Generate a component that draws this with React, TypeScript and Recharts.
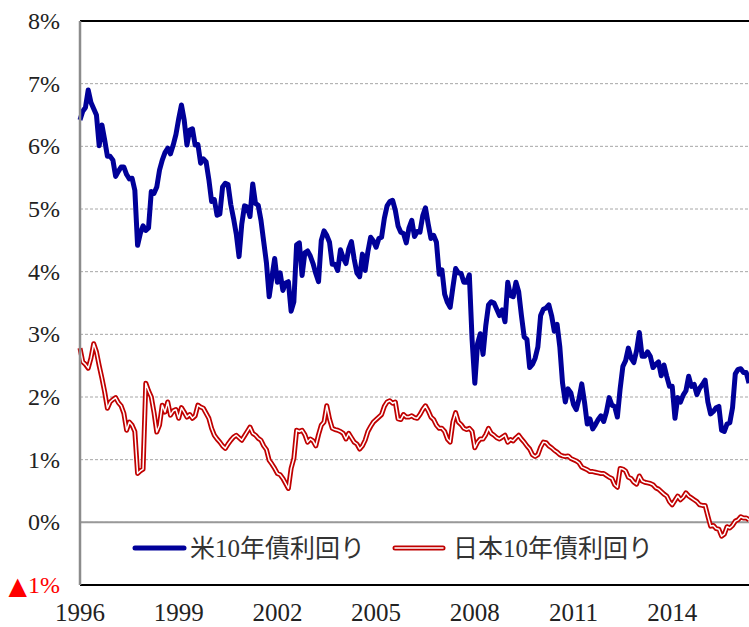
import React from 'react';
import { LineChart, Line, XAxis, YAxis, CartesianGrid, ReferenceLine, Legend } from 'recharts';

// month-end yields, Dec of first labelled year onward (one point per month)
const usYield = [
  6.42,
  6.56, 6.62, 6.9, 6.7, 6.6, 6.5, 6.01, 6.34, 6.1, 5.84, 5.84, 5.78,
  5.52, 5.6, 5.67, 5.67, 5.55, 5.48, 5.49, 5.3, 4.42, 4.61, 4.73, 4.66,
  4.7, 5.28, 5.25, 5.35, 5.62, 5.78, 5.9, 5.97, 5.88, 6.02, 6.19, 6.44,
  6.66, 6.42, 6.02, 6.26, 6.28, 6.02, 6.03, 5.73, 5.8, 5.75, 5.47, 5.12,
  5.15, 4.9, 4.92, 5.35, 5.41, 5.39, 5.07, 4.85, 4.6, 4.24, 4.76, 5.05,
  5.03, 4.88, 5.4, 5.09, 5.06, 4.82, 4.48, 4.14, 3.6, 3.91, 4.21, 3.83,
  3.98, 3.7, 3.82, 3.84, 3.37, 3.52, 4.43, 4.46, 3.94, 4.3, 4.33, 4.25,
  4.13, 3.97, 3.84, 4.5, 4.65, 4.58, 4.47, 4.12, 4.12, 4.02, 4.35, 4.22,
  4.13, 4.36, 4.48, 4.2, 3.98, 3.92, 4.28, 4.02, 4.32, 4.55, 4.49, 4.39,
  4.53, 4.55, 4.85, 5.05, 5.12, 5.14, 4.98, 4.73, 4.63, 4.61, 4.46, 4.7,
  4.82, 4.56, 4.64, 4.63, 4.89, 5.02, 4.76, 4.53, 4.58, 4.47, 3.96, 4.03,
  3.64, 3.51, 3.43, 3.75, 4.05, 3.98, 3.97, 3.83, 3.83, 3.95, 2.92, 2.22,
  2.85, 3.01, 2.68, 3.14, 3.47, 3.52, 3.5, 3.4, 3.3, 3.39, 3.2, 3.83,
  3.62, 3.6, 3.83, 3.68, 3.3, 2.96, 2.92, 2.47, 2.52, 2.62, 2.8, 3.3,
  3.4, 3.42, 3.47, 3.3, 3.05, 3.16, 2.8, 2.22, 1.92, 2.13, 2.07, 1.88,
  1.8, 1.97, 2.21, 1.92, 1.57, 1.65, 1.49, 1.56, 1.64, 1.7, 1.61, 1.76,
  1.99, 1.87, 1.85, 1.68, 2.13, 2.49, 2.58, 2.78, 2.62, 2.55, 2.74, 3.03,
  2.65, 2.65, 2.72, 2.65, 2.47, 2.52, 2.56, 2.34, 2.51, 2.33, 2.17, 2.17,
  1.66, 1.99, 1.92, 2.03, 2.1, 2.33, 2.17, 2.2, 2.04, 2.14, 2.2, 2.27,
  1.92, 1.73, 1.77, 1.83, 1.85, 1.47, 1.45, 1.57, 1.59, 1.83, 2.37, 2.44,
  2.45, 2.39, 2.39, 2.22,
];

const jpYield = [
  2.78,
  2.56, 2.52, 2.46, 2.62, 2.85, 2.72, 2.5, 2.3, 2.08, 1.82, 1.92, 1.96,
  1.99, 1.91, 1.86, 1.74, 1.47, 1.6, 1.55, 1.45, 0.78, 0.82, 0.85, 2.22,
  2.1, 2.0, 1.75, 1.44, 1.55, 1.87, 1.76, 1.92, 1.71, 1.78, 1.8, 1.66,
  1.83, 1.76, 1.68, 1.72, 1.66, 1.7, 1.87, 1.84, 1.82, 1.74, 1.66, 1.5,
  1.39, 1.33, 1.28, 1.22, 1.18, 1.25, 1.31, 1.36, 1.39, 1.35, 1.31, 1.38,
  1.45, 1.52, 1.42, 1.39, 1.34, 1.31, 1.22, 1.16, 0.99, 0.93, 0.86, 0.78,
  0.76, 0.7, 0.62, 0.54, 0.86, 1.02, 1.47, 1.45, 1.47, 1.4, 1.28, 1.33,
  1.3, 1.22, 1.4, 1.55, 1.6, 1.86, 1.65, 1.5, 1.48, 1.47, 1.45, 1.42,
  1.33, 1.42, 1.35, 1.28, 1.25, 1.17, 1.22, 1.31, 1.45, 1.53, 1.6, 1.64,
  1.68, 1.72, 1.85, 1.92, 1.94, 1.9, 1.92, 1.65, 1.64, 1.72, 1.68, 1.68,
  1.7, 1.67, 1.66, 1.72, 1.8, 1.86, 1.78, 1.68, 1.64, 1.55, 1.5, 1.5,
  1.45, 1.33, 1.28, 1.6, 1.75, 1.6, 1.56, 1.5, 1.48, 1.5, 1.45, 1.19,
  1.28, 1.33, 1.33, 1.4, 1.5, 1.42, 1.39, 1.35, 1.33, 1.36, 1.39, 1.28,
  1.32, 1.3, 1.35, 1.39, 1.33, 1.28, 1.22, 1.17, 1.08, 1.05, 1.08, 1.2,
  1.28, 1.27, 1.22, 1.19, 1.15, 1.12, 1.08, 1.06, 1.05, 1.06, 1.02, 1.0,
  0.98, 0.95, 0.88, 0.86, 0.84, 0.81, 0.81, 0.8, 0.79, 0.78, 0.78, 0.75,
  0.72, 0.7, 0.6, 0.56, 0.86, 0.85, 0.82, 0.72, 0.7, 0.64, 0.61, 0.74,
  0.66, 0.64, 0.63, 0.62, 0.6, 0.55, 0.53, 0.49, 0.45, 0.42, 0.33, 0.28,
  0.35, 0.42, 0.36, 0.4, 0.47, 0.42, 0.39, 0.36, 0.33, 0.28, 0.27, 0.27,
  0.1, -0.06, -0.05, -0.1, -0.11, -0.22, -0.19, -0.07, -0.09, -0.05, 0.02, 0.04,
  0.09, 0.07, 0.07, 0.04,
];

const yearTicks = [0, 36, 72, 108, 144, 180, 216];
const yearLabels = ['1996', '1999', '2002', '2005', '2008', '2011', '2014'];
const pctTicks = [-1, 0, 1, 2, 3, 4, 5, 6, 7, 8];
const seriesNames = ['米10年債利回り', '日本10年債利回り'];

const data = usYield.map((v, i) => ({ m: i, us: v, jp: jpYield[i], jpInner: jpYield[i] }));

const serif = "'Liberation Serif', 'Noto Sans CJK JP', serif";

const YTick = (props: any) => {
  const { y, payload } = props;
  if (payload.value < 0) {
    return (
      <g>
        <text x={27} y={y + 9} textAnchor="end" fontSize={24} fontFamily="'DejaVu Sans', sans-serif" fill="#ff0000">▲</text>
        <text x={60} y={y + 8} textAnchor="end" fontSize={24} fontFamily={serif} fill="#ff0000">
          {Math.abs(payload.value) + '%'}
        </text>
      </g>
    );
  }
  return (
    <text x={60} y={y + 8} textAnchor="end" fontSize={24} fontFamily={serif} fill="#222">
      {payload.value + '%'}
    </text>
  );
};

const XTick = (props: any) => {
  const { x, y, payload } = props;
  const idx = yearTicks.indexOf(payload.value);
  return (
    <text x={x} y={y + 19} textAnchor="middle" dominantBaseline="central" fontSize={25} fontFamily={serif} fill="#222">
      {yearLabels[idx]}
    </text>
  );
};

const renderLegend = () => (
  <svg width={749} height={40}>
    <line x1={135} y1={20} x2={184} y2={20} stroke="#000099" strokeWidth={5} strokeLinecap="round" />
    <text x={190} y={20} dominantBaseline="central" fontSize={25} fontFamily={serif} fill="#333">{seriesNames[0]}</text>
    <line x1={395} y1={20} x2={443} y2={20} stroke="#c00000" strokeWidth={5} strokeLinecap="round" />
    <line x1={395} y1={20} x2={443} y2={20} stroke="#ffffff" strokeWidth={1.5} strokeLinecap="round" />
    <text x={453} y={20} dominantBaseline="central" fontSize={25} fontFamily={serif} fill="#333">{seriesNames[1]}</text>
  </svg>
);

export default function App() {
  return (
    <div style={{ position: 'absolute', left: 0, top: 0, width: 749, height: 627, overflow: 'hidden', background: '#fff' }}>
      <LineChart width={749} height={627} data={data} margin={{ top: 21, right: 0, bottom: 0, left: 0 }}>
        <CartesianGrid vertical={false} stroke="#a6a6a6" strokeDasharray="3 2" />
        <XAxis
          dataKey="m"
          type="number"
          domain={[0, 244]}
          ticks={yearTicks}
          interval={0}
          height={42}
          tickLine={false}
          axisLine={{ stroke: '#000', strokeWidth: 2 }}
          tick={<XTick />}
        />
        <YAxis
          type="number"
          domain={[-1, 8]}
          ticks={pctTicks}
          interval={0}
          width={80}
          tickLine={false}
          axisLine={{ stroke: '#8c8c8c', strokeWidth: 2.5 }}
          tick={<YTick />}
        />
        <ReferenceLine y={0} stroke="#999" strokeWidth={2} />
        <ReferenceLine y={8} stroke="#000" strokeWidth={2} />
        <Legend
          layout="horizontal"
          verticalAlign="middle"
          align="center"
          content={renderLegend}
          wrapperStyle={{ top: 528, left: 0, width: 749, height: 40 }}
        />
        <Line type="linear" dataKey="us" stroke="#000099" strokeWidth={5} dot={false} strokeLinejoin="round" isAnimationActive={false} />
        <Line type="linear" dataKey="jp" stroke="#c00000" strokeWidth={5} dot={false} strokeLinejoin="round" isAnimationActive={false} />
        <Line type="linear" dataKey="jpInner" stroke="#ffffff" strokeWidth={1.5} dot={false} strokeLinejoin="round" isAnimationActive={false} />
      </LineChart>
    </div>
  );
}
